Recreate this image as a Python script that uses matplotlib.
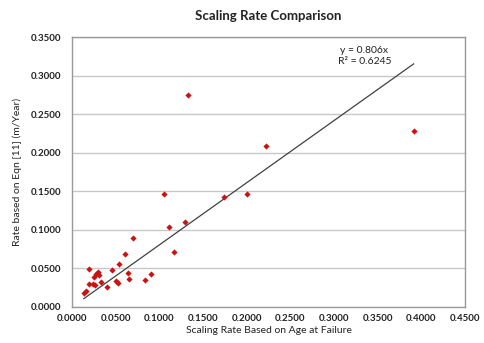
import numpy as np
import matplotlib
matplotlib.use('Agg')
import matplotlib.pyplot as plt

plt.rcParams['font.family'] = ['Lato', 'DejaVu Sans']

# ==== Data ====
age_rate = [0.1325, 0.2218, 0.1057, 0.1737, 0.2001, 0.1298, 0.1115, 0.1161,
            0.0695, 0.0600, 0.0542, 0.0191, 0.0458, 0.0294, 0.0271, 0.0313,
            0.0256, 0.0645, 0.0657, 0.0328, 0.0500, 0.0530, 0.0840, 0.0905,
            0.0198, 0.0237, 0.0267, 0.0401, 0.0160, 0.0134, 0.3910]
eqn_rate = [0.2754, 0.2088, 0.1466, 0.1423, 0.1466, 0.1102, 0.1033, 0.0713,
            0.0899, 0.0692, 0.0562, 0.0497, 0.0476, 0.0450, 0.0428, 0.0415,
            0.0393, 0.0445, 0.0363, 0.0324, 0.0341, 0.0315, 0.0354, 0.0424,
            0.0298, 0.0294, 0.0281, 0.0255, 0.0204, 0.0182, 0.2287]
slope = 0.806
r_squared = 0.6245

x_ticks = np.arange(0, 0.4501, 0.05)
y_ticks = np.arange(0, 0.3501, 0.05)

# ==== Plot ====
fig = plt.figure(figsize=(4.84, 3.43), dpi=100)
ax = fig.add_axes([0.149, 0.105, 0.812, 0.787])

ax.scatter(age_rate, eqn_rate, marker='D', s=10, color='#cc1111', zorder=3, linewidths=0)

# trendline through origin, drawn over the data range
xl = np.array([min(age_rate), max(age_rate)])
ax.plot(xl, slope * xl, color='#404040', linewidth=0.9, zorder=2)

ax.text(0.3345, 0.3255, f"y = {slope}x\nR² = {r_squared}", ha='center', va='center',
        fontsize=7.5, color='#222222', linespacing=1.35)

ax.set_xlim(0, 0.45)
ax.set_ylim(0, 0.35)
ax.set_xticks(x_ticks)
ax.set_yticks(y_ticks)
ax.set_xticklabels([f"{v:.4f}" for v in x_ticks], fontsize=7, fontweight='bold')
ax.set_yticklabels([f"{v:.4f}" for v in y_ticks], fontsize=7, fontweight='bold')
ax.tick_params(axis='y', length=0, pad=8, colors='#222222')
ax.tick_params(axis='x', length=0, pad=5, colors='#222222')
ax.grid(axis='y', color='#c8c8c8', linewidth=1)
ax.set_axisbelow(True)
for s in ax.spines.values():
    s.set_color('#999999')
    s.set_linewidth(1)

ax.set_title("Scaling Rate Comparison", fontsize=9.5, fontweight='bold', pad=12, color='#222222')
ax.set_xlabel("Scaling Rate Based on Age at Failure", fontsize=7.5, labelpad=2, color='#222222')
ax.set_ylabel("Rate based on Eqn [11] (m/Year)", fontsize=7.5, labelpad=6, color='#222222')

fig.savefig('out.png', dpi=100)
